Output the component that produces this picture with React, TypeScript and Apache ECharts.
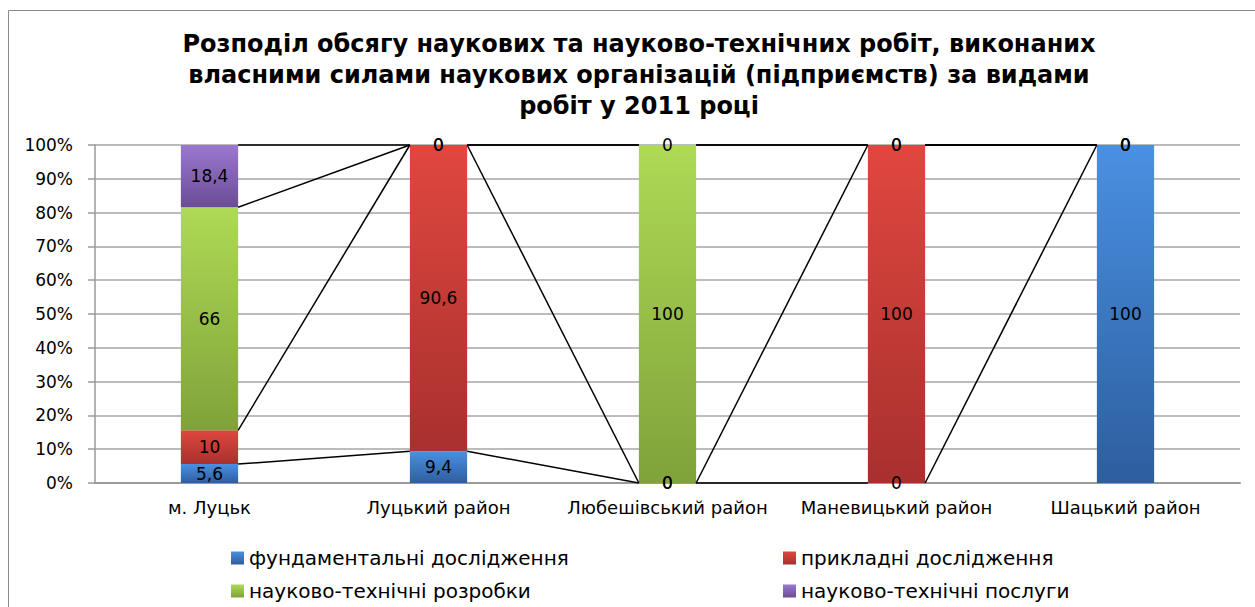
import React, { useEffect, useRef } from "react";
import * as echarts from "echarts";

const categories = ["м. Луцьк", "Луцький район", "Любешівський район", "Маневицький район", "Шацький район"];
const seriesNames = ["фундаментальні дослідження", "прикладні дослідження", "науково-технічні розробки", "науково-технічні послуги"];
const fundamental = [5.6, 9.4, 0, 0, 100];
const applied = [10, 90.6, 0, 100, 0];
const development = [66, 0, 100, 0, 0];
const services = [18.4, 0, 0, 0, 0];
const yTicks = [0, 10, 20, 30, 40, 50, 60, 70, 80, 90, 100];
const titleLines = [
  "Розподіл обсягу наукових та науково-технічних робіт, виконаних",
  "власними силами наукових організацій (підприємств) за видами",
  "робіт у 2011 році",
];

const BAR_RATIO = 0.25;
const gradients = [
  ["#4A90E2", "#2D5E9E"],
  ["#E0473F", "#A8302E"],
  ["#AEDA55", "#80A23A"],
  ["#9B78D0", "#6A4C96"],
];

export default function App() {
  const ref = useRef<HTMLDivElement>(null);
  useEffect(() => {
    if (!ref.current) return;
    const chart = echarts.init(ref.current, null, { renderer: "svg" });
    const stacks = [fundamental, applied, development, services];
    const cum: number[][] = [];
    stacks.forEach((arr, k) => {
      cum.push(arr.map((v, i) => (k === 0 ? v : cum[k - 1][i] + v)));
    });
    const fmt = (v: number) => String(v).replace(".", ",");
    const barSeries = stacks.map((arr, k) => ({
      name: seriesNames[k],
      type: "bar",
      stack: "total",
      barWidth: BAR_RATIO * 100 + "%",
      data: arr,
      itemStyle: {
        color: new echarts.graphic.LinearGradient(0, 0, 0, 1, [
          { offset: 0, color: gradients[k][0] },
          { offset: 1, color: gradients[k][1] },
        ]),
      },
      label: {
        show: true,
        position: "inside",
        formatter: (p: any) => fmt(p.value),
        color: "#000",
        fontFamily: "DejaVu Sans",
        fontSize: 17,
        textBorderWidth: 0,
      },
      z: 2,
    }));
    const lineSeries = cum.map((c, k) => ({
      type: "custom",
      name: "line" + k,
      data: c.slice(0, -1).map((v, i) => [i, v, c[i + 1]]),
      encode: { x: 0, y: [1, 2] },
      z: 3,
      silent: true,
      renderItem: (params: any, api: any) => {
        const i = api.value(0);
        const p1 = api.coord([i, api.value(1)]);
        const p2 = api.coord([i + 1, api.value(2)]);
        const hw = (api.size([1, 0])[0] * BAR_RATIO) / 2;
        return {
          type: "line",
          shape: { x1: p1[0] + hw, y1: p1[1], x2: p2[0] - hw, y2: p2[1] },
          style: { stroke: "#000", lineWidth: 1.5 },
        };
      },
    }));
    const legendBase = {
      orient: "vertical",
      top: 542,
      itemWidth: 13,
      itemHeight: 13,
      itemGap: 11,
      selectedMode: false,
      icon: "rect",
      textStyle: { fontFamily: "DejaVu Sans", fontSize: 20, color: "#000", lineHeight: 22 },
    };
    chart.setOption({
      animation: false,
      backgroundColor: "#fff",
      grid: { left: 95, right: 15, top: 145, bottom: 124, containLabel: false },
      graphic: [
        {
          type: "rect",
          shape: { x: 8.5, y: 10.5, width: 1400, height: 800 },
          style: { fill: "none", stroke: "#8a8a8a", lineWidth: 1 },
          silent: true,
        },
        {
          type: "text",
          x: 639,
          y: 28,
          style: {
            text: titleLines.join("\n"),
            font: 'bold 24px "DejaVu Sans"',
            textAlign: "center",
            textVerticalAlign: "top",
            lineHeight: 31,
            fill: "#000",
          },
        },
      ],
      legend: [
        { ...legendBase, left: 226, data: [seriesNames[0], seriesNames[2]] },
        { ...legendBase, left: 778, data: [seriesNames[1], seriesNames[3]] },
      ],
      xAxis: {
        type: "category",
        data: categories,
        axisLine: { lineStyle: { color: "#9a9a9a", width: 2 } },
        axisTick: { show: false },
        axisLabel: { color: "#000", fontFamily: "DejaVu Sans", fontSize: 18, margin: 15, interval: 0 },
      },
      yAxis: {
        type: "value",
        min: yTicks[0],
        max: yTicks[yTicks.length - 1],
        interval: yTicks[1] - yTicks[0],
        axisLine: { show: true, lineStyle: { color: "#9a9a9a", width: 1.5 } },
        axisTick: { show: true, length: 7, lineStyle: { color: "#9a9a9a", width: 1.5 } },
        splitLine: { lineStyle: { color: "#a6a6a6", width: 1.5 } },
        axisLabel: { color: "#000", fontFamily: "DejaVu Sans", fontSize: 17, margin: 22, formatter: "{value}%" },
      },
      series: [...barSeries, ...lineSeries],
    });
    return () => chart.dispose();
  }, []);
  return (
    <div
      ref={ref}
      style={{ position: "absolute", left: 0, top: 0, width: 1255, height: 607, background: "#fff" }}
    />
  );
}
